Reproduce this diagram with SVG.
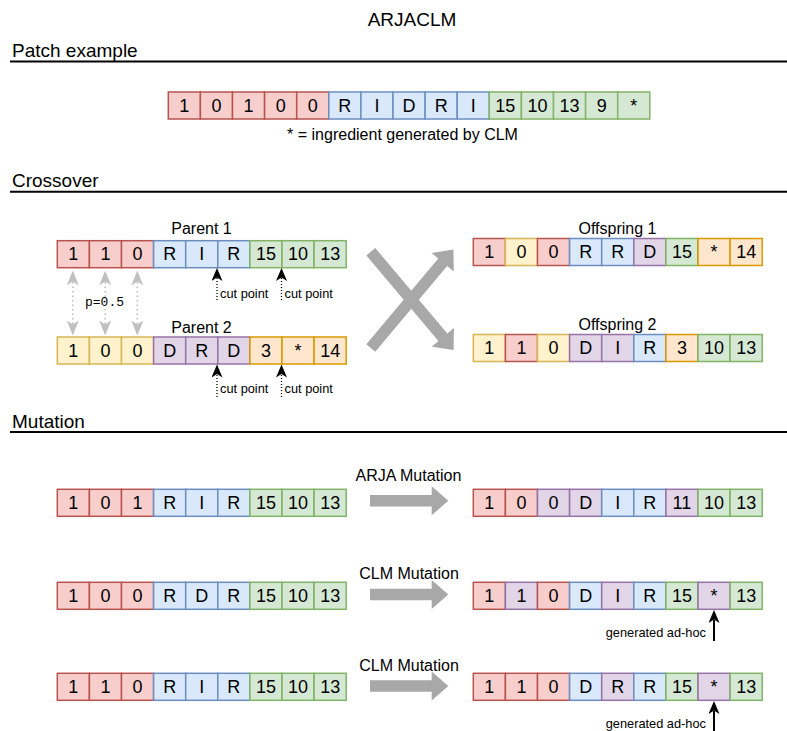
<svg xmlns="http://www.w3.org/2000/svg" xmlns:xlink="http://www.w3.org/1999/xlink" width="787" height="731" viewBox="0 0 787 731">
  <style>
    text { font-family: "Liberation Sans", Arial, sans-serif; fill: #000; }
    .title { font-size: 19px; text-anchor: middle; }
    .hdr { font-size: 19px; }
    .rule { stroke: #000; stroke-width: 2; }
    .cell rect { stroke-width: 1.5; }
    .cell text { font-size: 18px; text-anchor: middle; }
    .red { fill: #f8cecc; stroke: #b85450; }
    .blue { fill: #dae8fc; stroke: #6c8ebf; }
    .green { fill: #d5e8d4; stroke: #82b366; }
    .yellow { fill: #fff2cc; stroke: #d6b656; }
    .orange { fill: #ffe6cc; stroke: #d79b00; }
    .purple { fill: #e1d5e7; stroke: #9673a6; }
    .lbl { font-size: 16px; text-anchor: middle; }
    .small { font-size: 12.8px; }
    .mono { font-family: "Liberation Mono", "DejaVu Sans Mono", monospace; font-size: 13px; }
    .cut { stroke: #000; stroke-width: 1.3; stroke-dasharray: 1 2; fill: none; marker-end: url(#head); }
    .swap { stroke: #c0c0c0; stroke-width: 1.6; stroke-dasharray: 1.5 3; fill: none; marker-start: url(#grayHead); marker-end: url(#grayHead); }
    .point { stroke: #000; stroke-width: 2; fill: none; marker-end: url(#head); }
    .flex { fill: #a8a8a8; }
  </style>
  <defs>
    <marker id="head" viewBox="0 0 13 11" refX="3" refY="5.5" markerWidth="13" markerHeight="11" markerUnits="userSpaceOnUse" orient="auto">
      <path d="M0,0 L13,5.5 L0,11 L3.5,5.5 Z" fill="#000"/>
    </marker>
    <marker id="grayHead" viewBox="0 0 15 12" refX="3.5" refY="6" markerWidth="15" markerHeight="12" markerUnits="userSpaceOnUse" orient="auto-start-reverse">
      <path d="M0,0 L15,6 L0,12 L4,6 Z" fill="#c0c0c0"/>
    </marker>
    <path id="flexShort" d="M0,-5.8 H61.7 V-14.5 L78.3,0 L61.7,14.5 V5.8 H0 Z"/>
    <path id="flexLong" d="M0,-5.8 H111.9 V-14.5 L128.5,0 L111.9,14.5 V5.8 H0 Z"/>
  </defs>

  <rect width="787" height="731" fill="#fff"/>

  <!-- title and section headings -->
  <text class="title" x="412" y="26">ARJACLM</text>
  <g id="section-patch">
    <text class="hdr" x="12" y="56.8">Patch example</text>
    <line class="rule" x1="10" y1="61.5" x2="787" y2="61.5"/>
  </g>
  <g id="section-crossover">
    <text class="hdr" x="12" y="187.3">Crossover</text>
    <line class="rule" x1="10" y1="191.8" x2="787" y2="191.8"/>
  </g>
  <g id="section-mutation">
    <text class="hdr" x="12" y="427.5">Mutation</text>
    <line class="rule" x1="10" y1="432" x2="787" y2="432"/>
  </g>

  <!-- patch example -->
  <g id="patch" class="cell" transform="translate(168.3,92)">
    <rect class="red" x="0" width="32.1" height="27"/><text x="16.05" y="19.8">1</text>
    <rect class="red" x="32.1" width="32.1" height="27"/><text x="48.15" y="19.8">0</text>
    <rect class="red" x="64.2" width="32.1" height="27"/><text x="80.25" y="19.8">1</text>
    <rect class="red" x="96.3" width="32.1" height="27"/><text x="112.35" y="19.8">0</text>
    <rect class="red" x="128.4" width="32.1" height="27"/><text x="144.45" y="19.8">0</text>
    <rect class="blue" x="160.5" width="32.1" height="27"/><text x="176.55" y="19.8">R</text>
    <rect class="blue" x="192.6" width="32.1" height="27"/><text x="208.65" y="19.8">I</text>
    <rect class="blue" x="224.7" width="32.1" height="27"/><text x="240.75" y="19.8">D</text>
    <rect class="blue" x="256.8" width="32.1" height="27"/><text x="272.85" y="19.8">R</text>
    <rect class="blue" x="288.9" width="32.1" height="27"/><text x="304.95" y="19.8">I</text>
    <rect class="green" x="321" width="32.1" height="27"/><text x="337.05" y="19.8">15</text>
    <rect class="green" x="353.1" width="32.1" height="27"/><text x="369.15" y="19.8">10</text>
    <rect class="green" x="385.2" width="32.1" height="27"/><text x="401.25" y="19.8">13</text>
    <rect class="green" x="417.3" width="32.1" height="27"/><text x="433.35" y="19.8">9</text>
    <rect class="green" x="449.4" width="32.1" height="27"/><text x="465.45" y="19.8">*</text>
  </g>
  <text id="patch-note" class="lbl" x="402.5" y="139.5">* = ingredient generated by CLM</text>

  <!-- crossover: parents -->
  <g id="parent1">
    <text class="lbl" x="201.5" y="234">Parent 1</text>
    <g class="cell" transform="translate(57.3,240.7)">
      <rect class="red" x="0" width="32.1" height="27"/><text x="16.05" y="19.8">1</text>
      <rect class="red" x="32.1" width="32.1" height="27"/><text x="48.15" y="19.8">1</text>
      <rect class="red" x="64.2" width="32.1" height="27"/><text x="80.25" y="19.8">0</text>
      <rect class="blue" x="96.3" width="32.1" height="27"/><text x="112.35" y="19.8">R</text>
      <rect class="blue" x="128.4" width="32.1" height="27"/><text x="144.45" y="19.8">I</text>
      <rect class="blue" x="160.5" width="32.1" height="27"/><text x="176.55" y="19.8">R</text>
      <rect class="green" x="192.6" width="32.1" height="27"/><text x="208.65" y="19.8">15</text>
      <rect class="green" x="224.7" width="32.1" height="27"/><text x="240.75" y="19.8">10</text>
      <rect class="green" x="256.8" width="32.1" height="27"/><text x="272.85" y="19.8">13</text>
    </g>
  </g>
  <g id="parent2">
    <text class="lbl" x="201.5" y="333.3">Parent 2</text>
    <g class="cell" transform="translate(57.3,337)">
      <rect class="yellow" x="0" width="32.1" height="27"/><text x="16.05" y="19.8">1</text>
      <rect class="yellow" x="32.1" width="32.1" height="27"/><text x="48.15" y="19.8">0</text>
      <rect class="yellow" x="64.2" width="32.1" height="27"/><text x="80.25" y="19.8">0</text>
      <rect class="purple" x="96.3" width="32.1" height="27"/><text x="112.35" y="19.8">D</text>
      <rect class="purple" x="128.4" width="32.1" height="27"/><text x="144.45" y="19.8">R</text>
      <rect class="purple" x="160.5" width="32.1" height="27"/><text x="176.55" y="19.8">D</text>
      <rect class="orange" x="192.6" width="32.1" height="27"/><text x="208.65" y="19.8">3</text>
      <rect class="orange" x="224.7" width="32.1" height="27"/><text x="240.75" y="19.8">*</text>
      <rect class="orange" x="256.8" width="32.1" height="27"/><text x="272.85" y="19.8">14</text>
    </g>
  </g>

  <!-- crossover: offspring -->
  <g id="offspring1">
    <text class="lbl" x="617.5" y="234.3">Offspring 1</text>
    <g class="cell" transform="translate(473.3,238.5)">
      <rect class="red" x="0" width="32.1" height="27"/><text x="16.05" y="19.8">1</text>
      <rect class="yellow" x="32.1" width="32.1" height="27"/><text x="48.15" y="19.8">0</text>
      <rect class="red" x="64.2" width="32.1" height="27"/><text x="80.25" y="19.8">0</text>
      <rect class="blue" x="96.3" width="32.1" height="27"/><text x="112.35" y="19.8">R</text>
      <rect class="blue" x="128.4" width="32.1" height="27"/><text x="144.45" y="19.8">R</text>
      <rect class="purple" x="160.5" width="32.1" height="27"/><text x="176.55" y="19.8">D</text>
      <rect class="green" x="192.6" width="32.1" height="27"/><text x="208.65" y="19.8">15</text>
      <rect class="orange" x="224.7" width="32.1" height="27"/><text x="240.75" y="19.8">*</text>
      <rect class="orange" x="256.8" width="32.1" height="27"/><text x="272.85" y="19.8">14</text>
    </g>
  </g>
  <g id="offspring2">
    <text class="lbl" x="617.5" y="330">Offspring 2</text>
    <g class="cell" transform="translate(473.3,334.5)">
      <rect class="yellow" x="0" width="32.1" height="27"/><text x="16.05" y="19.8">1</text>
      <rect class="red" x="32.1" width="32.1" height="27"/><text x="48.15" y="19.8">1</text>
      <rect class="yellow" x="64.2" width="32.1" height="27"/><text x="80.25" y="19.8">0</text>
      <rect class="purple" x="96.3" width="32.1" height="27"/><text x="112.35" y="19.8">D</text>
      <rect class="purple" x="128.4" width="32.1" height="27"/><text x="144.45" y="19.8">I</text>
      <rect class="blue" x="160.5" width="32.1" height="27"/><text x="176.55" y="19.8">R</text>
      <rect class="orange" x="192.6" width="32.1" height="27"/><text x="208.65" y="19.8">3</text>
      <rect class="green" x="224.7" width="32.1" height="27"/><text x="240.75" y="19.8">10</text>
      <rect class="green" x="256.8" width="32.1" height="27"/><text x="272.85" y="19.8">13</text>
    </g>
  </g>

  <!-- mutation: ARJA -->
  <g id="arja-before" class="cell" transform="translate(57.3,489.3)">
    <rect class="red" x="0" width="32.1" height="27"/><text x="16.05" y="19.8">1</text>
    <rect class="red" x="32.1" width="32.1" height="27"/><text x="48.15" y="19.8">0</text>
    <rect class="red" x="64.2" width="32.1" height="27"/><text x="80.25" y="19.8">1</text>
    <rect class="blue" x="96.3" width="32.1" height="27"/><text x="112.35" y="19.8">R</text>
    <rect class="blue" x="128.4" width="32.1" height="27"/><text x="144.45" y="19.8">I</text>
    <rect class="blue" x="160.5" width="32.1" height="27"/><text x="176.55" y="19.8">R</text>
    <rect class="green" x="192.6" width="32.1" height="27"/><text x="208.65" y="19.8">15</text>
    <rect class="green" x="224.7" width="32.1" height="27"/><text x="240.75" y="19.8">10</text>
    <rect class="green" x="256.8" width="32.1" height="27"/><text x="272.85" y="19.8">13</text>
  </g>
  <g id="arja-after" class="cell" transform="translate(473.3,489.3)">
    <rect class="red" x="0" width="32.1" height="27"/><text x="16.05" y="19.8">1</text>
    <rect class="red" x="32.1" width="32.1" height="27"/><text x="48.15" y="19.8">0</text>
    <rect class="purple" x="64.2" width="32.1" height="27"/><text x="80.25" y="19.8">0</text>
    <rect class="purple" x="96.3" width="32.1" height="27"/><text x="112.35" y="19.8">D</text>
    <rect class="blue" x="128.4" width="32.1" height="27"/><text x="144.45" y="19.8">I</text>
    <rect class="blue" x="160.5" width="32.1" height="27"/><text x="176.55" y="19.8">R</text>
    <rect class="purple" x="192.6" width="32.1" height="27"/><text x="208.65" y="19.8">11</text>
    <rect class="green" x="224.7" width="32.1" height="27"/><text x="240.75" y="19.8">10</text>
    <rect class="green" x="256.8" width="32.1" height="27"/><text x="272.85" y="19.8">13</text>
  </g>

  <!-- mutation: CLM (first) -->
  <g id="clm1-before" class="cell" transform="translate(57.3,582.3)">
    <rect class="red" x="0" width="32.1" height="27"/><text x="16.05" y="19.8">1</text>
    <rect class="red" x="32.1" width="32.1" height="27"/><text x="48.15" y="19.8">0</text>
    <rect class="red" x="64.2" width="32.1" height="27"/><text x="80.25" y="19.8">0</text>
    <rect class="blue" x="96.3" width="32.1" height="27"/><text x="112.35" y="19.8">R</text>
    <rect class="blue" x="128.4" width="32.1" height="27"/><text x="144.45" y="19.8">D</text>
    <rect class="blue" x="160.5" width="32.1" height="27"/><text x="176.55" y="19.8">R</text>
    <rect class="green" x="192.6" width="32.1" height="27"/><text x="208.65" y="19.8">15</text>
    <rect class="green" x="224.7" width="32.1" height="27"/><text x="240.75" y="19.8">10</text>
    <rect class="green" x="256.8" width="32.1" height="27"/><text x="272.85" y="19.8">13</text>
  </g>
  <g id="clm1-after" class="cell" transform="translate(473.3,582.3)">
    <rect class="red" x="0" width="32.1" height="27"/><text x="16.05" y="19.8">1</text>
    <rect class="purple" x="32.1" width="32.1" height="27"/><text x="48.15" y="19.8">1</text>
    <rect class="red" x="64.2" width="32.1" height="27"/><text x="80.25" y="19.8">0</text>
    <rect class="blue" x="96.3" width="32.1" height="27"/><text x="112.35" y="19.8">D</text>
    <rect class="purple" x="128.4" width="32.1" height="27"/><text x="144.45" y="19.8">I</text>
    <rect class="blue" x="160.5" width="32.1" height="27"/><text x="176.55" y="19.8">R</text>
    <rect class="green" x="192.6" width="32.1" height="27"/><text x="208.65" y="19.8">15</text>
    <rect class="purple" x="224.7" width="32.1" height="27"/><text x="240.75" y="19.8">*</text>
    <rect class="green" x="256.8" width="32.1" height="27"/><text x="272.85" y="19.8">13</text>
  </g>

  <!-- mutation: CLM (second) -->
  <g id="clm2-before" class="cell" transform="translate(57.3,673.3)">
    <rect class="red" x="0" width="32.1" height="27"/><text x="16.05" y="19.8">1</text>
    <rect class="red" x="32.1" width="32.1" height="27"/><text x="48.15" y="19.8">1</text>
    <rect class="red" x="64.2" width="32.1" height="27"/><text x="80.25" y="19.8">0</text>
    <rect class="blue" x="96.3" width="32.1" height="27"/><text x="112.35" y="19.8">R</text>
    <rect class="blue" x="128.4" width="32.1" height="27"/><text x="144.45" y="19.8">I</text>
    <rect class="blue" x="160.5" width="32.1" height="27"/><text x="176.55" y="19.8">R</text>
    <rect class="green" x="192.6" width="32.1" height="27"/><text x="208.65" y="19.8">15</text>
    <rect class="green" x="224.7" width="32.1" height="27"/><text x="240.75" y="19.8">10</text>
    <rect class="green" x="256.8" width="32.1" height="27"/><text x="272.85" y="19.8">13</text>
  </g>
  <g id="clm2-after" class="cell" transform="translate(473.3,673.3)">
    <rect class="red" x="0" width="32.1" height="27"/><text x="16.05" y="19.8">1</text>
    <rect class="red" x="32.1" width="32.1" height="27"/><text x="48.15" y="19.8">1</text>
    <rect class="red" x="64.2" width="32.1" height="27"/><text x="80.25" y="19.8">0</text>
    <rect class="blue" x="96.3" width="32.1" height="27"/><text x="112.35" y="19.8">D</text>
    <rect class="purple" x="128.4" width="32.1" height="27"/><text x="144.45" y="19.8">R</text>
    <rect class="blue" x="160.5" width="32.1" height="27"/><text x="176.55" y="19.8">R</text>
    <rect class="green" x="192.6" width="32.1" height="27"/><text x="208.65" y="19.8">15</text>
    <rect class="purple" x="224.7" width="32.1" height="27"/><text x="240.75" y="19.8">*</text>
    <rect class="green" x="256.8" width="32.1" height="27"/><text x="272.85" y="19.8">13</text>
  </g>

  <!-- connectors -->
  <g id="connectors">
    <!-- gene swap links between the parents -->
    <line class="swap" x1="72.8" y1="282" x2="72.8" y2="324"/>
    <line class="swap" x1="105.2" y1="282" x2="105.2" y2="324"/>
    <line class="swap" x1="137.3" y1="282" x2="137.3" y2="324"/>
    <text class="mono" x="85" y="305.5">p=0.5</text>

    <!-- cut points -->
    <line class="cut" x1="217" y1="300" x2="217" y2="278"/>
    <line class="cut" x1="281.5" y1="300" x2="281.5" y2="278"/>
    <text class="small" x="220" y="298.3">cut point</text>
    <text class="small" x="284.5" y="298.3">cut point</text>
    <line class="cut" x1="217" y1="397" x2="217" y2="374.5"/>
    <line class="cut" x1="281.5" y1="397" x2="281.5" y2="374.5"/>
    <text class="small" x="220" y="393.3">cut point</text>
    <text class="small" x="284.5" y="393.3">cut point</text>

    <!-- crossover arrows -->
    <use xlink:href="#flexLong" class="flex" transform="translate(370.8,251.7) rotate(49.9)"/>
    <use xlink:href="#flexLong" class="flex" transform="translate(370.8,348) rotate(-50)"/>

    <!-- mutation arrows -->
    <text class="lbl" x="408.5" y="481">ARJA Mutation</text>
    <use xlink:href="#flexShort" class="flex" transform="translate(370,500.8)"/>
    <text class="lbl" x="409" y="579">CLM Mutation</text>
    <use xlink:href="#flexShort" class="flex" transform="translate(370,594.5)"/>
    <text class="lbl" x="409" y="671">CLM Mutation</text>
    <use xlink:href="#flexShort" class="flex" transform="translate(370,686)"/>

    <!-- freshly generated ingredients -->
    <line class="point" x1="714" y1="641" x2="714" y2="620"/>
    <text class="small" x="706" y="636.7" text-anchor="end">generated ad-hoc</text>
    <line class="point" x1="714" y1="731" x2="714" y2="711"/>
    <text class="small" x="706" y="728.3" text-anchor="end">generated ad-hoc</text>
  </g>
</svg>
